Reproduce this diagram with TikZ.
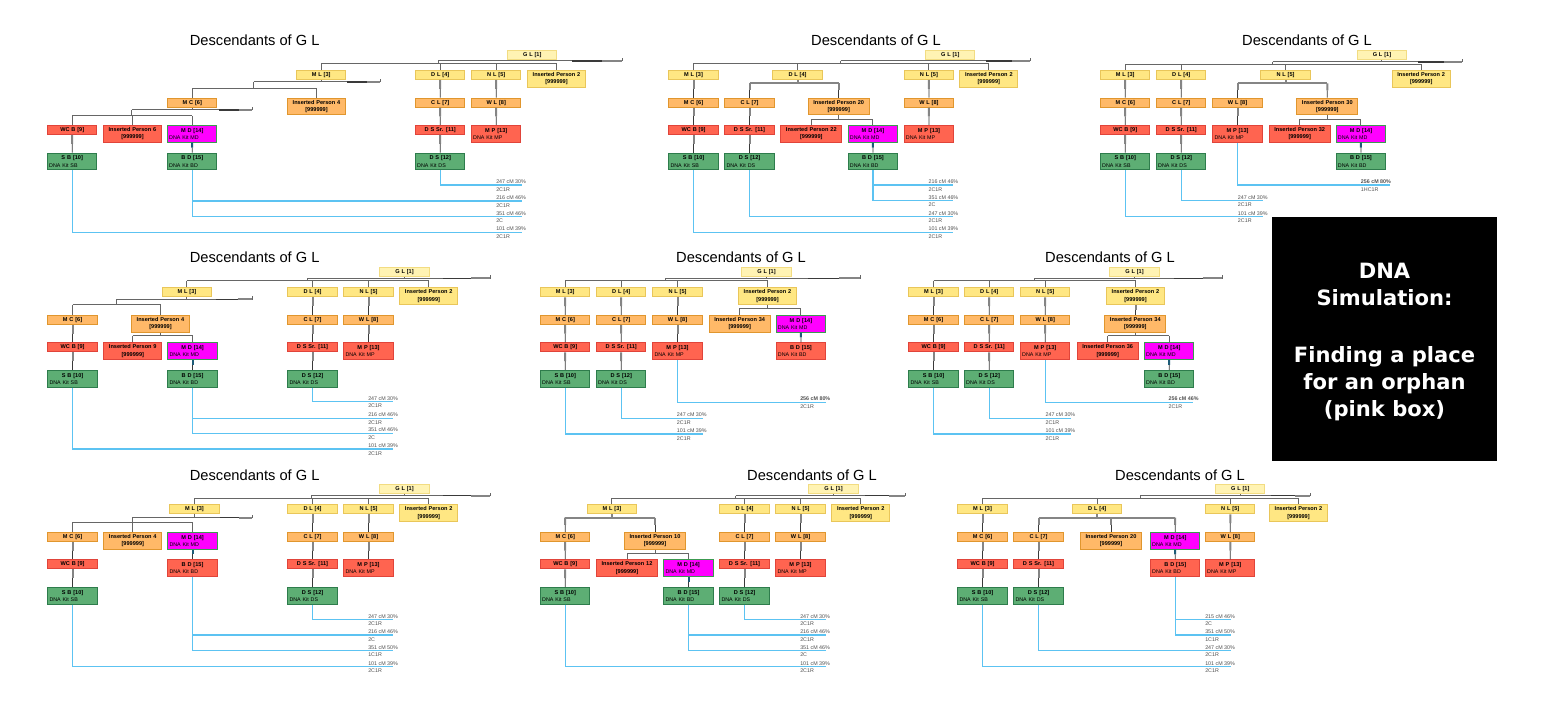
\documentclass[tikz,border=0pt]{standalone}
\usepackage{fontspec}
\setmainfont{Liberation Sans}
\newfontfamily\dvfont{DejaVu Sans}
\usetikzlibrary{calc}
\setlength{\parindent}{0pt}
\definecolor{glf}{HTML}{FFF3B3}\definecolor{gld}{HTML}{F2DC82}
\definecolor{yf}{HTML}{FFE783}\definecolor{yd}{HTML}{E9C65A}
\definecolor{of}{HTML}{FFB968}\definecolor{od}{HTML}{E0962E}
\definecolor{rf}{HTML}{FF6450}\definecolor{rd}{HTML}{E0443A}
\definecolor{gf}{HTML}{5DAE74}\definecolor{gd}{HTML}{2E7C4C}
\definecolor{pf}{HTML}{FF00FF}\definecolor{pd}{HTML}{3C9A50}
\definecolor{dnab}{HTML}{5CC3F2}
\definecolor{lnk}{HTML}{858585}
\definecolor{fln}{HTML}{666666}
\definecolor{dk}{HTML}{3A3A3A}
\definecolor{tl}{HTML}{1E5C78}
\definecolor{lblc}{HTML}{505050}
\newcounter{lbc}
\newcommand\Nm[1]{{\bfseries\centering #1\par}}
\newcommand\Kit[2]{{\bfseries\centering #1\par}{\fontsize{4}{5.6}\selectfont #2}}
\newcommand\Ins[1]{{\bfseries\centering Inserted Person #1\par [999999]\par}}
\newcommand\Bx[5]{\node[bx,#4] (#1) at (#2,#3) {#5};}
\newcommand\One[3][cthick]{%
  \draw[#1] (#2.south) -- ($(#2.south)!0.5!(#2.south |- #3.north)$);
  \draw[cthin] ($(#2.south)!0.5!(#2.south |- #3.north)$) -- (#2.south |- #3.north);}
\newcommand\FamS[9]{%
  \draw[fthin] (#1.south) -- (#1.south |- 0,#2);
  \draw[fthin] (#4,#2) -- (#5,#2) -- (#5,{#2-3});
  \pgfmathsetmacro\xa{#9+0.45*(#5-#9)}%
  \pgfmathsetmacro\xb{#5-0.22*(#5-#9)}%
  \draw[draw=dk, line width=0.85pt] (\xa,#2) -- (\xb,#2);
  \draw[draw=lnk, line width=1.3pt] (\xb,#2) -- (#5,#2);
  \draw[fthin] (#4,#2) -- (#4,#3);
  \draw[fthin] (#6.north |- 0,#3) -- (#7.north |- 0,#3);
  \foreach \cc in {#8} {\draw[fthin] (\cc.north |- 0,#3) -- (\cc.north);}}
\newcommand\FamN[5]{%
  \draw[fthin] (#1.south) -- (#1.south |- 0,#2);
  \draw[fthin] (#3.north |- 0,#2) -- (#4.north |- 0,#2);
  \foreach \cc in {#5} {\draw[fthin] (\cc.north |- 0,#2) -- (\cc.north);}}
\newcommand\FamT[5]{%
  \draw[cthick] (#1.south) -- (#1.south |- 0,#2);
  \draw[cthick] (#3.north |- 0,#2) -- (#4.north |- 0,#2);
  \foreach \cc in {#5} {\draw[cthick] (\cc.north |- 0,#2) -- ($(\cc.north |- 0,#2)!0.5!(\cc.north)$);
    \draw[cthin] ($(\cc.north |- 0,#2)!0.5!(\cc.north)$) -- (\cc.north);}}
\newcommand\Match[6]{%
  \stepcounter{lbc}\edef\mk{\arabic{lbc}}%
  \coordinate (me\mk) at (#4,#2);
  \draw[dnaline] (#1.south) |- (me\mk);
  \node[lbl] (lt\mk) at (#3,{#2-1.3}) {#5};
  \node[lbl] (lu\mk) at (#3,{#2+6.2}) {#6};}
\begin{document}
\begin{tikzpicture}[x=0.75pt,y=-0.75pt,
  bx/.style={draw, line width=0.75pt, anchor=north west, inner xsep=1.3pt, inner ysep=0pt, font=\fontsize{4.2}{5.5}\selectfont},
  s1/.style={minimum height=6.75pt},
  s2/.style={minimum height=12.4pt},
  w0/.style={minimum width=37.1pt, text width=34.5pt},
  wI/.style={minimum width=43.5pt, text width=40.9pt},
  wJ/.style={minimum width=45.75pt, text width=43.15pt},
  cGL/.style={fill=glf, draw=gld, s1, w0},
  y1/.style={fill=yf, draw=yd, s1, w0},
  yI/.style={fill=yf, draw=yd, s2, wI},
  o1/.style={fill=of, draw=od, s1, w0},
  oI/.style={fill=of, draw=od, s2, wI},
  oJ/.style={fill=of, draw=od, s2, wJ},
  r1/.style={fill=rf, draw=rd, s1, w0},
  rK/.style={fill=rf, draw=rd, s2, w0},
  rI/.style={fill=rf, draw=rd, s2, wI},
  rJ/.style={fill=rf, draw=rd, s2, wJ},
  gK/.style={fill=gf, draw=gd, s2, w0},
  pK/.style={fill=pf, draw=pd, s2, w0},
  cthin/.style={draw=dk, line width=0.6pt},
  cthick/.style={draw=lnk, line width=1.5pt},
  cteal/.style={draw=tl, line width=1.5pt},
  fthin/.style={draw=fln, line width=0.75pt},
  dnaline/.style={draw=dnab, line width=1pt},
  lbl/.style={anchor=base west, inner sep=0pt, text=lblc, font=\fontsize{4}{5}\selectfont},
  ttl/.style={anchor=base, inner sep=0pt, font=\fontsize{11}{13}\selectfont}]
\useasboundingbox[fill=white] (0,0) rectangle (1545,705);

% ================= T1
\node[ttl] (ta) at (254.7,45.7) {Descendants of G L};
\Bx{aGL}{507}{50}{cGL}{\Nm{G L [1]}}
\Bx{aML}{296}{70}{y1}{\Nm{M L [3]}}
\Bx{aDL}{415}{70}{y1}{\Nm{D L [4]}}
\Bx{aNL}{471}{70}{y1}{\Nm{N L [5]}}
\Bx{aIP2}{527}{70}{yI}{\Ins{2}}
\Bx{aMC}{167}{97.7}{o1}{\Nm{M C [6]}}
\Bx{aIP4}{287}{97.7}{oI}{\Ins{4}}
\Bx{aCL}{415}{97.7}{o1}{\Nm{C L [7]}}
\Bx{aWL}{471}{97.7}{o1}{\Nm{W L [8]}}
\Bx{aWCB}{47}{125}{r1}{\Nm{WC B [9]}}
\Bx{aIP6}{103}{125}{rI}{\Ins{6}}
\Bx{aMD}{167}{125}{pK}{\Kit{M D [14]}{DNA Kit MD}}
\Bx{aDSS}{415}{125}{r1}{\Nm{D S Sr. [11]}}
\Bx{aMP}{471}{125}{rK}{\Kit{M P [13]}{DNA Kit MP}}
\Bx{aSB}{47}{152.7}{gK}{\Kit{S B [10]}{DNA Kit SB}}
\Bx{aBD}{167}{152.7}{gK}{\Kit{B D [15]}{DNA Kit BD}}
\Bx{aDS}{415}{152.7}{gK}{\Kit{D S [12]}{DNA Kit DS}}
\FamS{aGL}{61}{63.5}{438.4}{622}{aML}{aIP2}{aML,aDL,aNL,aIP2}{531.75}
\FamS{aML}{82}{88.3}{253.9}{380}{aMC}{aIP4}{aMC,aIP4}{320.75}
\FamS{aMC}{110}{116}{131.75}{252}{aWCB}{aMD}{aWCB,aIP6,aMD}{191.75}
\One{aDL}{aCL}\One{aCL}{aDSS}\One{aDSS}{aDS}\One{aNL}{aWL}\One{aWL}{aMP}\One{aWCB}{aSB}\One[cteal]{aMD}{aBD}
\Match{aDS}{185}{496}{521.7}{247 cM 30\%}{2C1R}
\Match{aBD}{201}{496}{521.7}{216 cM 46\%}{2C1R}
\Match{aBD}{216.6}{496}{521.7}{351 cM 46\%}{2C}
\Match{aSB}{232.2}{496}{521.7}{101 cM 39\%}{2C1R}

% ================= T2
\node[ttl] (tb) at (876,45.7) {Descendants of G L};
\Bx{bGL}{925}{50}{cGL}{\Nm{G L [1]}}
\Bx{bML}{668.3}{70}{y1}{\Nm{M L [3]}}
\Bx{bDL}{772.3}{70}{y1}{\Nm{D L [4]}}
\Bx{bNL}{903.7}{70}{y1}{\Nm{N L [5]}}
\Bx{bIP2}{959.3}{70}{yI}{\Ins{2}}
\Bx{bMC}{668.3}{97.7}{o1}{\Nm{M C [6]}}
\Bx{bCL}{724.3}{97.7}{o1}{\Nm{C L [7]}}
\Bx{bIP20}{807.7}{97.7}{oJ}{\Ins{20}}
\Bx{bWL}{903.7}{97.7}{o1}{\Nm{W L [8]}}
\Bx{bWCB}{668.3}{125}{r1}{\Nm{WC B [9]}}
\Bx{bDSS}{724.3}{125}{r1}{\Nm{D S Sr. [11]}}
\Bx{bIP22}{780.3}{125}{rJ}{\Ins{22}}
\Bx{bMD}{847.7}{125}{pK}{\Kit{M D [14]}{DNA Kit MD}}
\Bx{bMP}{903.7}{125}{rK}{\Kit{M P [13]}{DNA Kit MP}}
\Bx{bSB}{668.3}{152.7}{gK}{\Kit{S B [10]}{DNA Kit SB}}
\Bx{bDS}{724.3}{152.7}{gK}{\Kit{D S [12]}{DNA Kit DS}}
\Bx{bBD}{847.7}{152.7}{gK}{\Kit{B D [15]}{DNA Kit BD}}
\FamS{bGL}{61}{63.3}{840.7}{1030}{bML}{bIP2}{bML,bDL,bNL,bIP2}{949.75}
\FamT{bDL}{83.3}{bCL}{bIP20}{bCL,bIP20}
\FamN{bIP20}{119.3}{bIP22}{bMD}{bIP22,bMD}
\One{bML}{bMC}\One{bMC}{bWCB}\One{bWCB}{bSB}\One{bCL}{bDSS}\One{bDSS}{bDS}\One{bNL}{bWL}\One{bWL}{bMP}\One[cteal]{bMD}{bBD}
\Match{bBD}{185}{928.3}{953.3}{216 cM 46\%}{2C1R}
\Match{bBD}{200.7}{928.3}{953.3}{351 cM 46\%}{2C}
\Match{bDS}{216.7}{928.3}{953.3}{247 cM 30\%}{2C1R}
\Match{bSB}{232.3}{928.3}{953.3}{101 cM 39\%}{2C1R}

% ================= T3
\node[ttl] (tc) at (1307,45.7) {Descendants of G L};
\Bx{cGL}{1356.7}{50}{cGL}{\Nm{G L [1]}}
\Bx{cML}{1100}{70}{y1}{\Nm{M L [3]}}
\Bx{cDL}{1156}{70}{y1}{\Nm{D L [4]}}
\Bx{cNL}{1260.3}{70}{y1}{\Nm{N L [5]}}
\Bx{cIP2}{1391.7}{70}{yI}{\Ins{2}}
\Bx{cMC}{1100}{97.7}{o1}{\Nm{M C [6]}}
\Bx{cCL}{1156}{97.7}{o1}{\Nm{C L [7]}}
\Bx{cWL}{1212.3}{97.7}{o1}{\Nm{W L [8]}}
\Bx{cIP30}{1296.3}{97.7}{oJ}{\Ins{30}}
\Bx{cWCB}{1100}{125}{r1}{\Nm{WC B [9]}}
\Bx{cDSS}{1156}{125}{r1}{\Nm{D S Sr. [11]}}
\Bx{cMP}{1212.3}{125}{rK}{\Kit{M P [13]}{DNA Kit MP}}
\Bx{cIP32}{1268.7}{125}{rJ}{\Ins{32}}
\Bx{cMD}{1335.7}{125}{pK}{\Kit{M D [14]}{DNA Kit MD}}
\Bx{cSB}{1100}{152.7}{gK}{\Kit{S B [10]}{DNA Kit SB}}
\Bx{cDS}{1156}{152.7}{gK}{\Kit{D S [12]}{DNA Kit DS}}
\Bx{cBD}{1335.7}{152.7}{gK}{\Kit{B D [15]}{DNA Kit BD}}
\FamS{cGL}{62}{64.3}{1272.7}{1462}{cML}{cIP2}{cML,cDL,cNL,cIP2}{1381.45}
\FamT{cNL}{83.3}{cWL}{cIP30}{cWL,cIP30}
\FamN{cIP30}{119.3}{cIP32}{cMD}{cIP32,cMD}
\One{cML}{cMC}\One{cMC}{cWCB}\One{cWCB}{cSB}\One{cDL}{cCL}\One{cCL}{cDSS}\One{cDSS}{cDS}\One{cWL}{cMP}\One[cteal]{cMD}{cBD}
\Match{cMP}{185}{1360.7}{1390}{\bfseries 256 cM 80\%}{1HC1R}
\Match{cDS}{200.7}{1237.7}{1262.7}{247 cM 30\%}{2C1R}
\Match{cSB}{216.7}{1237.7}{1262.7}{101 cM 39\%}{2C1R}

% ================= Band 2
\begin{scope}[shift={(0,217.3)}]
% T4
\node[ttl] (td) at (254.7,45.7) {Descendants of G L};
\Bx{dGL}{379.3}{50}{cGL}{\Nm{G L [1]}}
\Bx{dML}{161.7}{70}{y1}{\Nm{M L [3]}}
\Bx{dDL}{287.3}{70}{y1}{\Nm{D L [4]}}
\Bx{dNL}{343.3}{70}{y1}{\Nm{N L [5]}}
\Bx{dIP2}{399.3}{70}{yI}{\Ins{2}}
\Bx{dMC}{47.3}{97.7}{o1}{\Nm{M C [6]}}
\Bx{dIP4}{131}{97.7}{oI}{\Ins{4}}
\Bx{dCL}{287.3}{97.7}{o1}{\Nm{C L [7]}}
\Bx{dWL}{343.3}{97.7}{o1}{\Nm{W L [8]}}
\Bx{dWCB}{47.3}{125}{r1}{\Nm{WC B [9]}}
\Bx{dIP9}{103.3}{125}{rI}{\Ins{9}}
\Bx{dMD}{167.3}{125}{pK}{\Kit{M D [14]}{DNA Kit MD}}
\Bx{dDSS}{287.3}{125}{r1}{\Nm{D S Sr. [11]}}
\Bx{dMP}{343.3}{125}{rK}{\Kit{M P [13]}{DNA Kit MP}}
\Bx{dSB}{47.3}{152.7}{gK}{\Kit{S B [10]}{DNA Kit SB}}
\Bx{dBD}{167.3}{152.7}{gK}{\Kit{B D [15]}{DNA Kit BD}}
\Bx{dDS}{287.3}{152.7}{gK}{\Kit{D S [12]}{DNA Kit DS}}
\FamS{dGL}{61}{63.7}{307.4}{490}{dML}{dIP2}{dML,dDL,dNL,dIP2}{404.05}
\FamS{dML}{82}{87.7}{116}{252}{dMC}{dIP4}{dMC,dIP4}{186.45}
\FamN{dIP4}{118.7}{dIP9}{dMD}{dIP9,dMD}
\One{dMC}{dWCB}\One{dWCB}{dSB}\One[cteal]{dMD}{dBD}\One{dDL}{dCL}\One{dCL}{dDSS}\One{dDSS}{dDS}\One{dNL}{dWL}\One{dWL}{dMP}
\Match{dDS}{184.5}{368}{393}{247 cM 30\%}{2C1R}
\Match{dBD}{201}{368}{393}{216 cM 46\%}{2C1R}
\Match{dBD}{216}{368}{393}{351 cM 46\%}{2C}
\Match{dSB}{231.7}{368}{393}{101 cM 39\%}{2C1R}

% T5
\node[ttl] (te) at (741,45.7) {Descendants of G L};
\Bx{eGL}{741.3}{50}{cGL}{\Nm{G L [1]}}
\Bx{eML}{540}{70}{y1}{\Nm{M L [3]}}
\Bx{eDL}{596}{70}{y1}{\Nm{D L [4]}}
\Bx{eNL}{652.3}{70}{y1}{\Nm{N L [5]}}
\Bx{eIP2}{738}{70}{yI}{\Ins{2}}
\Bx{eMC}{540}{97.7}{o1}{\Nm{M C [6]}}
\Bx{eCL}{596}{97.7}{o1}{\Nm{C L [7]}}
\Bx{eWL}{652.3}{97.7}{o1}{\Nm{W L [8]}}
\Bx{eIP34}{708.7}{97.7}{oJ}{\Ins{34}}
\Bx{eMD}{775.7}{97.7}{pK}{\Kit{M D [14]}{DNA Kit MD}}
\Bx{eWCB}{540}{125}{r1}{\Nm{WC B [9]}}
\Bx{eDSS}{596}{125}{r1}{\Nm{D S Sr. [11]}}
\Bx{eMP}{652.3}{125}{rK}{\Kit{M P [13]}{DNA Kit MP}}
\Bx{eBD}{775.7}{125}{rK}{\Kit{B D [15]}{DNA Kit BD}}
\Bx{eSB}{540}{152.7}{gK}{\Kit{S B [10]}{DNA Kit SB}}
\Bx{eDS}{596}{152.7}{gK}{\Kit{D S [12]}{DNA Kit DS}}
\FamS{eGL}{61}{63.4}{665.9}{860}{eML}{eIP2}{eML,eDL,eNL,eIP2}{766.05}
\FamN{eIP2}{91}{eIP34}{eMD}{eIP34,eMD}
\One{eML}{eMC}\One{eMC}{eWCB}\One{eWCB}{eSB}\One{eDL}{eCL}\One{eCL}{eDSS}\One{eDSS}{eDS}\One{eNL}{eWL}\One{eWL}{eMP}\One[cteal]{eMD}{eBD}
\Match{eMP}{185}{800}{826}{\bfseries 256 cM 80\%}{2C1R}
\Match{eDS}{201}{676.7}{702.7}{247 cM 30\%}{2C1R}
\Match{eSB}{216.7}{676.7}{702.7}{101 cM 39\%}{2C1R}

% T6
\node[ttl] (tf) at (1110,45.7) {Descendants of G L};
\Bx{fGL}{1109.3}{50}{cGL}{\Nm{G L [1]}}
\Bx{fML}{908.3}{70}{y1}{\Nm{M L [3]}}
\Bx{fDL}{964}{70}{y1}{\Nm{D L [4]}}
\Bx{fNL}{1020}{70}{y1}{\Nm{N L [5]}}
\Bx{fIP2}{1106}{70}{yI}{\Ins{2}}
\Bx{fMC}{908.3}{97.7}{o1}{\Nm{M C [6]}}
\Bx{fCL}{964}{97.7}{o1}{\Nm{C L [7]}}
\Bx{fWL}{1020}{97.7}{o1}{\Nm{W L [8]}}
\Bx{fIP34}{1104.3}{97.7}{oJ}{\Ins{34}}
\Bx{fWCB}{908.3}{125}{r1}{\Nm{WC B [9]}}
\Bx{fDSS}{964}{125}{r1}{\Nm{D S Sr. [11]}}
\Bx{fMP}{1020}{125}{rK}{\Kit{M P [13]}{DNA Kit MP}}
\Bx{fIP36}{1076.7}{125}{rJ}{\Ins{36}}
\Bx{fMD}{1144}{125}{pK}{\Kit{M D [14]}{DNA Kit MD}}
\Bx{fSB}{908.3}{152.7}{gK}{\Kit{S B [10]}{DNA Kit SB}}
\Bx{fDS}{964}{152.7}{gK}{\Kit{D S [12]}{DNA Kit DS}}
\Bx{fBD}{1144}{152.7}{gK}{\Kit{B D [15]}{DNA Kit BD}}
\FamS{fGL}{61}{63.4}{1034}{1222}{fML}{fIP2}{fML,fDL,fNL,fIP2}{1134.05}
\One{fIP2}{fIP34}
\FamN{fIP34}{118.7}{fIP36}{fMD}{fIP36,fMD}
\One{fML}{fMC}\One{fMC}{fWCB}\One{fWCB}{fSB}\One{fDL}{fCL}\One{fCL}{fDSS}\One{fDSS}{fDS}\One{fNL}{fWL}\One{fWL}{fMP}\One[cteal]{fMD}{fBD}
\Match{fMP}{185}{1168.3}{1193.3}{\bfseries 256 cM 46\%}{2C1R}
\Match{fDS}{201}{1045.3}{1070.7}{247 cM 30\%}{2C1R}
\Match{fSB}{216.7}{1045.3}{1070.7}{101 cM 39\%}{2C1R}
\end{scope}

% ================= Band 3
\begin{scope}[shift={(0,434.3)}]
% T7
\node[ttl] (tg) at (254.7,45.7) {Descendants of G L};
\Bx{gGL}{379.3}{50}{cGL}{\Nm{G L [1]}}
\Bx{gML}{169.3}{70}{y1}{\Nm{M L [3]}}
\Bx{gDL}{287.3}{70}{y1}{\Nm{D L [4]}}
\Bx{gNL}{343.3}{70}{y1}{\Nm{N L [5]}}
\Bx{gIP2}{399.3}{70}{yI}{\Ins{2}}
\Bx{gMC}{47.3}{97.7}{o1}{\Nm{M C [6]}}
\Bx{gIP4}{103.3}{97.7}{oI}{\Ins{4}}
\Bx{gMD}{167.3}{97.7}{pK}{\Kit{M D [14]}{DNA Kit MD}}
\Bx{gCL}{287.3}{97.7}{o1}{\Nm{C L [7]}}
\Bx{gWL}{343.3}{97.7}{o1}{\Nm{W L [8]}}
\Bx{gWCB}{47.3}{125}{r1}{\Nm{WC B [9]}}
\Bx{gBD}{167.3}{125}{rK}{\Kit{B D [15]}{DNA Kit BD}}
\Bx{gDSS}{287.3}{125}{r1}{\Nm{D S Sr. [11]}}
\Bx{gMP}{343.3}{125}{rK}{\Kit{M P [13]}{DNA Kit MP}}
\Bx{gSB}{47.3}{152.7}{gK}{\Kit{S B [10]}{DNA Kit SB}}
\Bx{gDS}{287.3}{152.7}{gK}{\Kit{D S [12]}{DNA Kit DS}}
\FamS{gGL}{61.4}{64}{311.2}{490}{gML}{gIP2}{gML,gDL,gNL,gIP2}{404.05}
\FamS{gML}{83.5}{88}{132.05}{252}{gMC}{gMD}{gMC,gIP4,gMD}{194.05}
\One{gMC}{gWCB}\One{gWCB}{gSB}\One[cteal]{gMD}{gBD}\One{gDL}{gCL}\One{gCL}{gDSS}\One{gDSS}{gDS}\One{gNL}{gWL}\One{gWL}{gMP}
\Match{gDS}{185}{368}{393}{247 cM 30\%}{2C1R}
\Match{gBD}{200.7}{368}{393}{216 cM 46\%}{2C}
\Match{gBD}{216.4}{368}{393}{351 cM 50\%}{1C1R}
\Match{gSB}{232.4}{368}{393}{101 cM 39\%}{2C1R}

% T8
\node[ttl] (th) at (812,45.7) {Descendants of G L};
\Bx{hGL}{808.3}{50}{cGL}{\Nm{G L [1]}}
\Bx{hML}{586.7}{70}{y1}{\Nm{M L [3]}}
\Bx{hDL}{719.3}{70}{y1}{\Nm{D L [4]}}
\Bx{hNL}{775.3}{70}{y1}{\Nm{N L [5]}}
\Bx{hIP2}{831.3}{70}{yI}{\Ins{2}}
\Bx{hMC}{540}{97.7}{o1}{\Nm{M C [6]}}
\Bx{hIP10}{624}{97.7}{oJ}{\Ins{10}}
\Bx{hCL}{719.3}{97.7}{o1}{\Nm{C L [7]}}
\Bx{hWL}{775.3}{97.7}{o1}{\Nm{W L [8]}}
\Bx{hWCB}{540}{125}{r1}{\Nm{WC B [9]}}
\Bx{hIP12}{596}{125}{rJ}{\Ins{12}}
\Bx{hMD}{663.3}{125}{pK}{\Kit{M D [14]}{DNA Kit MD}}
\Bx{hDSS}{719.3}{125}{r1}{\Nm{D S Sr. [11]}}
\Bx{hMP}{775.3}{125}{rK}{\Kit{M P [13]}{DNA Kit MP}}
\Bx{hSB}{540}{152.7}{gK}{\Kit{S B [10]}{DNA Kit SB}}
\Bx{hBD}{663.3}{152.7}{gK}{\Kit{B D [15]}{DNA Kit BD}}
\Bx{hDS}{719.3}{152.7}{gK}{\Kit{D S [12]}{DNA Kit DS}}
\FamS{hGL}{61.4}{64}{735.9}{905}{hML}{hIP2}{hML,hDL,hNL,hIP2}{833.05}
\FamT{hML}{83.2}{hMC}{hIP10}{hMC,hIP10}
\FamN{hIP10}{119}{hIP12}{hMD}{hIP12,hMD}
\One{hMC}{hWCB}\One{hWCB}{hSB}\One[cteal]{hMD}{hBD}\One{hDL}{hCL}\One{hCL}{hDSS}\One{hDSS}{hDS}\One{hNL}{hWL}\One{hWL}{hMP}
\Match{hDS}{185}{800}{826}{247 cM 30\%}{2C1R}
\Match{hBD}{200.7}{800}{826}{216 cM 46\%}{2C1R}
\Match{hBD}{216.4}{800}{826}{351 cM 46\%}{2C}
\Match{hSB}{232.4}{800}{826}{101 cM 39\%}{2C1R}

% T9
\node[ttl] (ti) at (1180,45.7) {Descendants of G L};
\Bx{iGL}{1215}{50}{cGL}{\Nm{G L [1]}}
\Bx{iML}{957.3}{70}{y1}{\Nm{M L [3]}}
\Bx{iDL}{1072}{70}{y1}{\Nm{D L [4]}}
\Bx{iNL}{1205}{70}{y1}{\Nm{N L [5]}}
\Bx{iIP2}{1269}{70}{yI}{\Ins{2}}
\Bx{iMC}{957.3}{97.7}{o1}{\Nm{M C [6]}}
\Bx{iCL}{1013.3}{97.7}{o1}{\Nm{C L [7]}}
\Bx{iIP20}{1080}{97.7}{oJ}{\Ins{20}}
\Bx{iMD}{1150}{97.7}{pK}{\Kit{M D [14]}{DNA Kit MD}}
\Bx{iWL}{1205}{97.7}{o1}{\Nm{W L [8]}}
\Bx{iWCB}{957.3}{125}{r1}{\Nm{WC B [9]}}
\Bx{iDSS}{1013.3}{125}{r1}{\Nm{D S Sr. [11]}}
\Bx{iBD}{1150}{125}{rK}{\Kit{B D [15]}{DNA Kit BD}}
\Bx{iMP}{1205}{125}{rK}{\Kit{M P [13]}{DNA Kit MP}}
\Bx{iSB}{957.3}{152.7}{gK}{\Kit{S B [10]}{DNA Kit SB}}
\Bx{iDS}{1013.3}{152.7}{gK}{\Kit{D S [12]}{DNA Kit DS}}
\FamS{iGL}{61.4}{64}{1140}{1310}{iML}{iIP2}{iML,iDL,iNL,iIP2}{1239.75}
\FamT{iDL}{83.2}{iCL}{iMD}{iCL,iIP20,iMD}
\One{iML}{iMC}\One{iMC}{iWCB}\One{iWCB}{iSB}\One{iCL}{iDSS}\One{iDSS}{iDS}\One[cteal]{iMD}{iBD}\One{iNL}{iWL}\One{iWL}{iMP}
\Match{iBD}{185}{1205}{1231}{215 cM 46\%}{2C}
\Match{iBD}{200.7}{1205}{1231}{351 cM 50\%}{1C1R}
\Match{iDS}{216.4}{1205}{1231}{247 cM 30\%}{2C1R}
\Match{iSB}{232.4}{1205}{1231}{101 cM 39\%}{2C1R}
\end{scope}

% ================= Black caption box
\node[fill=black, anchor=north west, inner sep=0pt, minimum width=168.75pt, minimum height=183pt] (dnabox) at (1272,217) {};
\node[anchor=north, inner sep=0pt, align=center, text=white, font=\dvfont\bfseries\fontsize{15.8}{20}\selectfont] (dnatext) at (1384.5,263.3) {DNA\\Simulation:\\[23pt]Finding a place\\for an orphan\\(pink box)};
\end{tikzpicture}
\end{document}
